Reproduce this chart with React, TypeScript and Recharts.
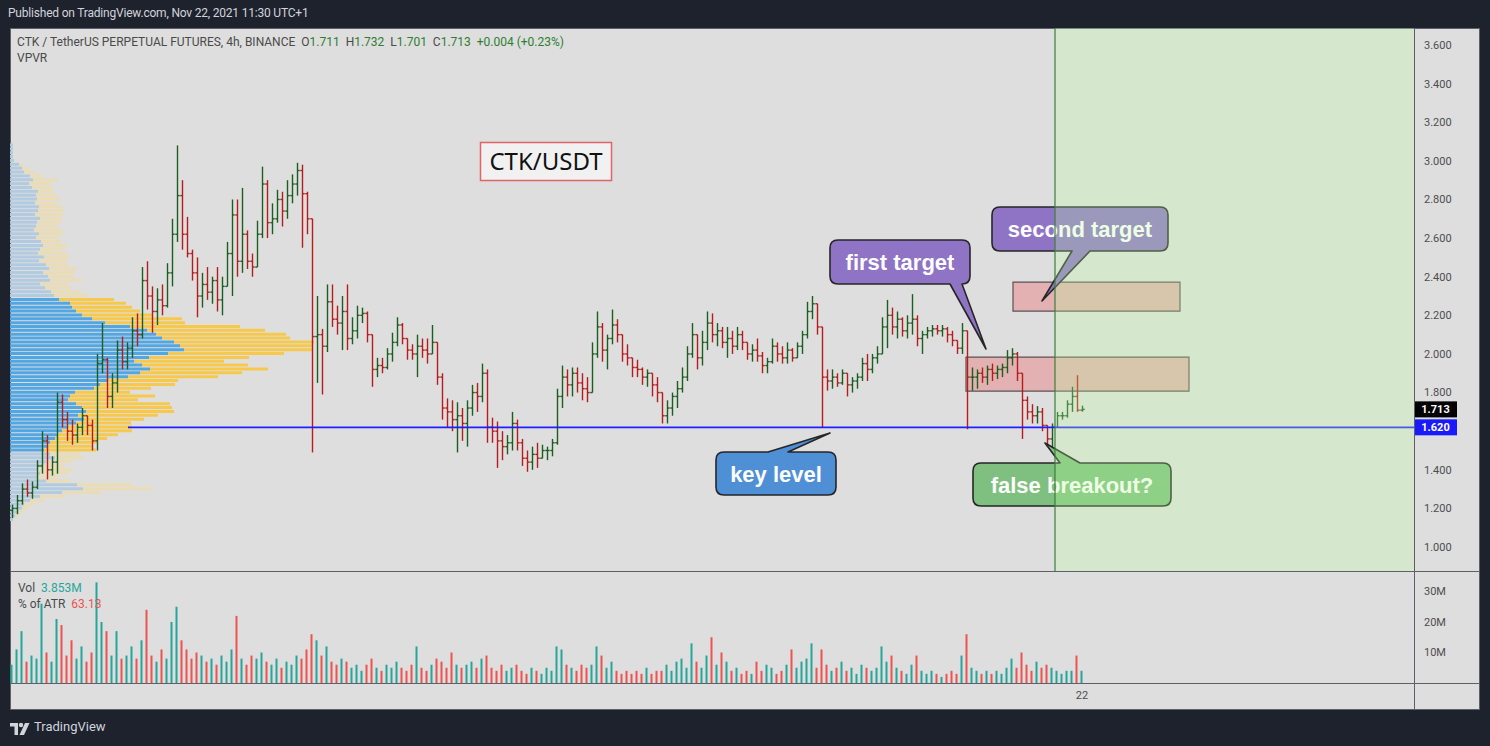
import React from 'react';
import { ComposedChart, Bar, XAxis, YAxis, ReferenceLine, ReferenceArea, Cell } from 'recharts';

// ---------- DATA ----------
const FIRST_OPEN = 1.19;
const HIGHS = [
  1.22, 1.27, 1.33, 1.35, 1.34, 1.45, 1.60, 1.58, 1.47, 1.80,
  1.79, 1.70, 1.66, 1.64, 1.72, 1.68, 1.66, 2.00, 2.16, 1.98,
  1.90, 2.07, 2.09, 2.06, 2.19, 2.21, 2.45, 2.48, 2.35, 2.34,
  2.36, 2.47, 2.70, 3.08, 2.90, 2.71, 2.54, 2.50, 2.42, 2.45,
  2.40, 2.45, 2.40, 2.58, 2.80, 2.80, 2.86, 2.64, 2.52, 2.69,
  2.97, 2.90, 2.78, 2.85, 2.84, 2.90, 2.93, 2.99, 2.98, 2.84,
  2.55, 2.30, 2.13, 2.36, 2.36, 2.25, 2.30, 2.36, 2.19, 2.25,
  2.24, 2.22, 2.04, 1.98, 1.98, 2.03, 2.11, 2.19, 2.16, 2.08,
  2.05, 2.10, 2.08, 2.08, 2.15, 2.06, 1.90, 1.77, 1.76, 1.75,
  1.72, 1.76, 1.84, 1.85, 1.95, 1.92, 1.67, 1.65, 1.60, 1.58,
  1.70, 1.66, 1.56, 1.50, 1.52, 1.54, 1.53, 1.52, 1.56, 1.82,
  1.94, 1.92, 1.93, 1.93, 1.90, 1.88, 2.06, 2.22, 2.16, 2.10,
  2.23, 2.18, 2.10, 2.05, 1.98, 1.97, 1.93, 1.92, 1.90, 1.88,
  1.80, 1.76, 1.80, 1.86, 1.93, 2.04, 2.16, 2.10, 2.12, 2.22,
  2.21, 2.16, 2.14, 2.14, 2.12, 2.14, 2.12, 2.06, 2.05, 2.08,
  2.01, 1.98, 2.08, 2.06, 2.04, 2.06, 2.03, 2.06, 2.12, 2.27,
  2.30, 2.22, 2.14, 1.92, 1.92, 1.90, 1.92, 1.90, 1.88, 1.90,
  1.98, 2.00, 2.00, 2.04, 2.19, 2.28, 2.24, 2.22, 2.19, 2.20,
  2.31, 2.20, 2.12, 2.14, 2.15, 2.15, 2.15, 2.14, 2.12, 2.07,
  2.16, 2.12, 1.93, 1.92, 1.93, 1.94, 1.95, 1.94, 1.95, 2.02,
  2.03, 2.01, 1.90, 1.78, 1.74, 1.73, 1.72, 1.62, 1.64, 1.70,
  1.70, 1.76, 1.83, 1.89, 1.732,
];
const LOWS = [
  1.15, 1.17, 1.22, 1.26, 1.25, 1.30, 1.38, 1.35, 1.37, 1.38,
  1.62, 1.55, 1.53, 1.54, 1.58, 1.58, 1.50, 1.50, 1.90, 1.72,
  1.72, 1.80, 1.92, 1.92, 1.98, 2.04, 2.08, 2.23, 2.11, 2.15,
  2.20, 2.24, 2.35, 2.58, 2.54, 2.50, 2.38, 2.19, 2.24, 2.28,
  2.26, 2.22, 2.20, 2.36, 2.30, 2.40, 2.42, 2.44, 2.40, 2.45,
  2.60, 2.60, 2.62, 2.68, 2.66, 2.70, 2.78, 2.82, 2.55, 2.62,
  1.49, 1.85, 1.79, 2.01, 2.14, 2.10, 2.02, 2.02, 2.05, 2.08,
  2.16, 2.06, 1.83, 1.88, 1.90, 1.92, 1.96, 2.04, 2.05, 1.97,
  1.97, 1.88, 1.98, 1.95, 2.00, 1.84, 1.66, 1.62, 1.60, 1.49,
  1.55, 1.52, 1.68, 1.70, 1.75, 1.54, 1.54, 1.41, 1.45, 1.48,
  1.50, 1.50, 1.42, 1.39, 1.40, 1.41, 1.46, 1.45, 1.47, 1.53,
  1.72, 1.78, 1.78, 1.80, 1.76, 1.75, 1.80, 1.98, 1.96, 1.92,
  2.05, 2.06, 1.96, 1.94, 1.88, 1.88, 1.84, 1.83, 1.78, 1.75,
  1.64, 1.64, 1.68, 1.72, 1.80, 1.86, 1.98, 1.92, 1.94, 2.02,
  2.06, 2.04, 2.03, 1.98, 2.00, 2.02, 2.02, 1.97, 1.96, 1.96,
  1.90, 1.90, 1.95, 1.96, 1.95, 1.95, 1.96, 1.98, 2.00, 2.08,
  2.18, 2.10, 1.62, 1.81, 1.82, 1.83, 1.84, 1.78, 1.80, 1.82,
  1.86, 1.86, 1.90, 1.95, 2.00, 2.03, 2.10, 2.08, 2.09, 2.08,
  2.10, 2.04, 2.00, 2.08, 2.09, 2.10, 2.09, 2.06, 2.04, 2.00,
  2.00, 1.61, 1.81, 1.82, 1.85, 1.84, 1.86, 1.87, 1.88, 1.90,
  1.94, 1.86, 1.56, 1.66, 1.64, 1.64, 1.60, 1.52, 1.50, 1.62,
  1.66, 1.67, 1.70, 1.70, 1.701,
];
const CLOSES = [
  1.20, 1.24, 1.30, 1.28, 1.31, 1.42, 1.55, 1.40, 1.44, 1.75,
  1.66, 1.60, 1.58, 1.62, 1.68, 1.63, 1.55, 1.95, 1.97, 1.78,
  1.85, 2.02, 1.96, 2.03, 2.12, 2.10, 2.38, 2.30, 2.22, 2.28,
  2.25, 2.42, 2.62, 2.82, 2.62, 2.52, 2.42, 2.30, 2.36, 2.32,
  2.38, 2.28, 2.35, 2.52, 2.72, 2.48, 2.62, 2.48, 2.45, 2.62,
  2.88, 2.68, 2.70, 2.80, 2.74, 2.82, 2.88, 2.95, 2.83, 2.70,
  2.09, 2.10, 2.04, 2.27, 2.18, 2.16, 2.22, 2.08, 2.12, 2.20,
  2.21, 2.10, 1.92, 1.94, 1.93, 2.00, 2.06, 2.15, 2.08, 2.02,
  2.00, 2.04, 2.02, 2.00, 2.06, 1.88, 1.72, 1.70, 1.66, 1.68,
  1.64, 1.72, 1.80, 1.78, 1.90, 1.62, 1.60, 1.55, 1.52, 1.54,
  1.64, 1.54, 1.46, 1.44, 1.48, 1.46, 1.50, 1.50, 1.54, 1.78,
  1.88, 1.84, 1.90, 1.85, 1.82, 1.80, 2.00, 2.14, 2.02, 2.08,
  2.15, 2.10, 2.00, 1.98, 1.93, 1.92, 1.88, 1.90, 1.84, 1.80,
  1.68, 1.72, 1.78, 1.82, 1.88, 2.00, 2.10, 1.98, 2.06, 2.16,
  2.10, 2.12, 2.06, 2.08, 2.04, 2.10, 2.06, 2.00, 2.02, 1.99,
  1.94, 1.96, 2.04, 2.00, 1.98, 2.02, 1.98, 2.04, 2.10, 2.22,
  2.26, 2.14, 1.88, 1.86, 1.88, 1.85, 1.90, 1.84, 1.86, 1.88,
  1.95, 1.92, 1.98, 2.00, 2.14, 2.20, 2.14, 2.18, 2.12, 2.16,
  2.18, 2.08, 2.10, 2.12, 2.13, 2.12, 2.13, 2.10, 2.07, 2.03,
  2.12, 1.88, 1.88, 1.90, 1.88, 1.92, 1.90, 1.92, 1.93, 1.98,
  2.00, 1.90, 1.76, 1.70, 1.68, 1.70, 1.63, 1.56, 1.62, 1.68,
  1.68, 1.74, 1.78, 1.709, 1.713,
];
const VOLUMES = [
  6, 11, 17, 7, 9, 8, 26, 10, 7, 21,
  19, 9, 14, 8, 12, 7, 10, 33, 20, 17,
  9, 17, 8, 9, 12, 8, 14, 24, 9, 7,
  11, 8, 20, 25, 14, 11, 8, 10, 9, 7,
  8, 6, 9, 7, 11, 22, 8, 6, 9, 8,
  10, 7, 6, 8, 5, 7, 6, 9, 8, 11,
  16, 14, 9, 12, 7, 6, 8, 7, 5, 6,
  4, 6, 8, 5, 4, 6, 5, 7, 5, 4,
  6, 12, 5, 4, 6, 8, 7, 5, 10, 6,
  5, 6, 7, 5, 8, 9, 5, 4, 6, 4,
  5, 6, 4, 3, 5, 4, 3, 5, 4, 12,
  11, 6, 5, 4, 6, 5, 6, 12, 9, 5,
  7, 4, 3, 4, 3, 4, 3, 5, 3, 4,
  4, 6, 4, 7, 8, 5, 13, 7, 5, 9,
  15, 6, 10, 7, 4, 5, 3, 4, 3, 7,
  4, 6, 5, 3, 4, 6, 11, 5, 7, 8,
  13, 5, 11, 6, 4, 5, 7, 4, 5, 3,
  6, 5, 4, 5, 12, 7, 9, 5, 4, 3,
  6, 9, 4, 3, 4, 3, 2, 3, 4, 3,
  9, 16, 5, 4, 3, 4, 3, 4, 3, 5,
  8, 5, 10, 6, 4, 7, 5, 6, 5, 4,
  3, 4, 4, 9, 4,
];

// 1.600 is hidden on the scale behind the 1.620 / 1.713 price tags
const PRICE_TICKS = [1.0, 1.2, 1.4, 1.8, 2.0, 2.2, 2.4, 2.6, 2.8, 3.0, 3.2, 3.4, 3.6];
const VOLUME_TICKS = [10, 20, 30];
const DATE_TICKS = [214];
const DATE_LABELS = ['22'];

// Volume profile (VPVR), rows of 0.02 from the top row downwards
const PROFILE_TOP = 3.08;
const PROFILE_STEP = 0.02;
const PROFILE_UP = [
  3, 3, 3, 3, 4, 9, 12, 14, 20, 23,
  19, 22, 28, 26, 27, 25, 29, 28, 25, 30,
  27, 26, 24, 29, 26, 31, 33, 30, 28, 34,
  29, 36, 39, 33, 38, 40, 30, 35, 41, 44,
  49, 60, 62, 66, 72, 82, 95, 120, 137, 146,
  152, 164, 170, 174, 158, 139, 124, 132, 140, 130,
  118, 98, 90, 84, 65, 60, 58, 66, 72, 76,
  68, 74, 66, 58, 52, 48, 45, 40, 38, 34,
  40, 45, 36, 32, 28, 30, 27, 36, 67, 73,
  52, 30, 20, 14, 12, 8, 5, 3,
];
const PROFILE_DOWN = [
  0, 0, 0, 0, 1, 3, 6, 10, 12, 25,
  22, 20, 15, 20, 23, 20, 23, 26, 28, 22,
  24, 21, 27, 25, 23, 20, 24, 22, 30, 25,
  28, 22, 28, 31, 25, 32, 28, 26, 30, 35,
  55, 56, 60, 64, 70, 90, 80, 110, 118, 130,
  128, 140, 133, 128, 116, 100, 90, 106, 118, 102,
  90, 70, 75, 57, 55, 85, 70, 94, 90, 88,
  80, 60, 55, 64, 70, 60, 52, 48, 45, 52,
  30, 28, 25, 22, 35, 28, 20, 25, 55, 70,
  40, 25, 14, 10, 6, 5, 3, 1,
];
const VALUE_AREA = [1.49, 2.29];

const KEY_LEVEL = 1.62;
const KEY_LEVEL_START = 23.2;
const LAST_PRICE = 1.713;
const GREEN_ZONE_START = 208.6;
const TARGET_ZONES = [
  { x1: 200.2, x2: 233.6, y1: 2.222, y2: 2.372 },
  { x1: 190.8, x2: 235.4, y1: 1.808, y2: 1.984 },
];

// ---------- LAYOUT / STYLE ----------
const PANE_W = 1404;
const AXIS_W = 66;
const PRICE_H = 543;
const X_DOMAIN: [number, number] = [-0.4, 280.4];
const PRICE_DOMAIN: [number, number] = [0.876, 3.688];
const VOL_DOMAIN: [number, number] = [0, 36.72];
const UP = '#1b5e20';
const DOWN = '#b71c1c';
const VOL_UP = '#26a69a';
const VOL_DOWN = '#ef5350';
const FONT = 'Roboto, "Noto Sans", sans-serif';

const bars = CLOSES.map((c, i) => {
  const open = i === 0 ? FIRST_OPEN : CLOSES[i - 1];
  const high = Math.max(HIGHS[i], open, c);
  const low = Math.min(LOWS[i], open, c);
  return { i, open, high, low, close: c, range: [low, high], vol: VOLUMES[i] };
});

const profile = PROFILE_UP.map((u, k) => ({
  p: +(PROFILE_TOP - k * PROFILE_STEP).toFixed(2),
  up: u,
  down: PROFILE_DOWN[k],
}));

const OhlcShape = (props: any) => {
  const { x, y, width, height, payload } = props;
  if (x == null || y == null) return null;
  const top = Math.min(y, y + height);
  const h = Math.abs(height);
  const cx = Math.round(x + width / 2) + 0.5;
  const span = payload.high - payload.low || 1;
  const yo = top + ((payload.high - payload.open) / span) * h;
  const yc = top + ((payload.high - payload.close) / span) * h;
  const color = payload.close >= payload.open ? UP : DOWN;
  return (
    <g>
      <line x1={cx} x2={cx} y1={top} y2={top + Math.max(h, 1)} stroke={color} strokeWidth={1.4} />
      <line x1={cx - 2.2} x2={cx} y1={yo} y2={yo} stroke={color} strokeWidth={1.4} />
      <line x1={cx} x2={cx + 2.2} y1={yc} y2={yc} stroke={color} strokeWidth={1.4} />
    </g>
  );
};

const PriceTag = (fill: string, text: string) => (props: any) => {
  const vb = props.viewBox || {};
  const x = (vb.x || 0) + (vb.width || 0);
  const y = vb.y || 0;
  return (
    <g>
      <rect x={x} y={y - 8} width={43} height={16} fill={fill} />
      <text x={x + 21.5} y={y + 4} textAnchor="middle" fontSize={11} fontWeight="bold" fill="#fff" fontFamily={FONT}>
        {text}
      </text>
    </g>
  );
};

function calloutPath(x: number, y: number, w: number, h: number, r: number, edge: 'top' | 'bottom', b1: number, b2: number, tx: number, ty: number) {
  const R = x + w;
  const B = y + h;
  if (edge === 'bottom') {
    return `M${x + r},${y} H${R - r} Q${R},${y} ${R},${y + r} V${B - r} Q${R},${B} ${R - r},${B} H${b2} L${tx},${ty} L${b1},${B} H${x + r} Q${x},${B} ${x},${B - r} V${y + r} Q${x},${y} ${x + r},${y} Z`;
  }
  return `M${x + r},${y} H${b1} L${tx},${ty} L${b2},${y} H${R - r} Q${R},${y} ${R},${y + r} V${B - r} Q${R},${B} ${R - r},${B} H${x + r} Q${x},${B} ${x},${B - r} V${y + r} Q${x},${y} ${x + r},${y} Z`;
}

const CALLOUTS = [
  { text: 'first target', x: 830, y: 240, w: 140, h: 44, edge: 'bottom' as const, b1: 950, b2: 962, tx: 986, ty: 349, fill: '#8f74c6' },
  { text: 'second target', x: 992, y: 207, w: 176, h: 44, edge: 'bottom' as const, b1: 1072, b2: 1090, tx: 1042, ty: 301, fill: '#8f74c6' },
  { text: 'key level', x: 716, y: 452, w: 120, h: 43, edge: 'top' as const, b1: 768, b2: 788, tx: 830, ty: 433, fill: '#4f8fd6' },
  { text: 'false breakout?', x: 973, y: 463, w: 198, h: 43, edge: 'top' as const, b1: 1060, b2: 1080, tx: 1045, ty: 443, fill: '#7fbf7f' },
];

const TvLogo = () => (
  <svg width={22} height={14} viewBox="0 0 22 14" style={{ position: 'absolute', left: 10, top: 722 }}>
    <path d="M0 1 H8 V13 H4.5 V4.5 H0 Z" fill="#d1d4dc" />
    <circle cx={11} cy={3} r={2.2} fill="#d1d4dc" />
    <path d="M15 1 H19.5 L14 13 H9.5 Z" fill="#d1d4dc" />
  </svg>
);

export default function App() {
  return (
    <div style={{ position: 'absolute', left: 0, top: 0, width: 1490, height: 746, background: '#1e222d', fontFamily: FONT, overflow: 'hidden' }}>
      <div style={{ position: 'absolute', left: 8, top: 6, fontSize: 12, color: '#d1d4dc', letterSpacing: -0.2 }}>
        Published on TradingView.com, Nov 22, 2021 11:30 UTC+1
      </div>
      {/* chart frame */}
      <div style={{ position: 'absolute', left: 10, top: 28, width: 1470, height: 682, background: '#dedede', boxShadow: 'inset 0 0 0 1px #5d606b' }} />

      {/* volume profile */}
      <div style={{ position: 'absolute', left: 10, top: 28 }}>
        <ComposedChart width={PANE_W} height={PRICE_H} data={profile} layout="vertical" margin={{ top: 0, right: 0, bottom: 0, left: 0 }}>
          <XAxis type="number" domain={[0, PANE_W]} hide allowDataOverflow />
          <YAxis type="number" dataKey="p" domain={PRICE_DOMAIN} hide allowDataOverflow reversed />
          <Bar dataKey="up" stackId="v" barSize={3} isAnimationActive={false}>
            {profile.map((r, k) => (
              <Cell key={k} fill={r.p >= VALUE_AREA[0] && r.p <= VALUE_AREA[1] ? '#52a6e1' : '#b2cbe0'} />
            ))}
          </Bar>
          <Bar dataKey="down" stackId="v" barSize={3} isAnimationActive={false}>
            {profile.map((r, k) => (
              <Cell key={k} fill={r.p >= VALUE_AREA[0] && r.p <= VALUE_AREA[1] ? '#f6c94e' : '#eadcb4'} />
            ))}
          </Bar>
        </ComposedChart>
      </div>

      {/* price pane */}
      <div style={{ position: 'absolute', left: 10, top: 28 }}>
        <ComposedChart width={PANE_W + AXIS_W} height={PRICE_H} data={bars} margin={{ top: 0, right: 0, bottom: 0, left: 0 }}>
          <XAxis type="number" dataKey="i" domain={X_DOMAIN} hide allowDataOverflow />
          <YAxis
            orientation="right"
            type="number"
            domain={PRICE_DOMAIN}
            ticks={PRICE_TICKS}
            allowDataOverflow
            width={AXIS_W}
            axisLine={false}
            tickLine={false}
            tickMargin={4}
            tick={{ fill: '#4d4d4d', fontSize: 11, fontFamily: FONT }}
            tickFormatter={(v: number) => v.toFixed(3)}
          />
          {TARGET_ZONES.map((z, k) => (
            <ReferenceArea key={k} x1={z.x1} x2={z.x2} y1={z.y1} y2={z.y2} fill="rgb(244,20,20)" fillOpacity={0.22} stroke="#5b5151" strokeWidth={1.2} ifOverflow="extendDomain" />
          ))}
          <ReferenceLine segment={[{ x: KEY_LEVEL_START, y: KEY_LEVEL }, { x: X_DOMAIN[1], y: KEY_LEVEL }]} stroke="#1f1fff" strokeWidth={1.6} />
          <Bar dataKey="range" barSize={4} shape={OhlcShape} isAnimationActive={false} />
          <ReferenceLine y={LAST_PRICE} stroke="none" label={PriceTag('#000', LAST_PRICE.toFixed(3))} />
          <ReferenceLine y={KEY_LEVEL} stroke="none" label={PriceTag('#1a1aff', KEY_LEVEL.toFixed(3))} />
        </ComposedChart>
      </div>

      {/* annotations */}
      <svg width={1490} height={746} style={{ position: 'absolute', left: 0, top: 0 }}>
        <rect x={480.5} y={142.5} width={131} height={38} fill="#f1f1f1" stroke="#e06666" strokeWidth={1.5} />
        <text x={546} y={170} textAnchor="middle" fontSize={24} fill="#111" fontFamily='"Noto Sans", sans-serif'>CTK/USDT</text>
        {CALLOUTS.map((c, k) => (
          <g key={k}>
            <path d={calloutPath(c.x, c.y, c.w, c.h, 8, c.edge, c.b1, c.b2, c.tx, c.ty)} fill={c.fill} stroke="#262626" strokeWidth={1.6} strokeLinejoin="round" />
            <text x={c.x + c.w / 2} y={c.y + c.h / 2 + 8} textAnchor="middle" fontSize={22} fontWeight="bold" fill="#fff" fontFamily='"Liberation Sans", Arial, sans-serif'>
              {c.text}
            </text>
          </g>
        ))}
      </svg>

      {/* forecast zone overlay */}
      <div style={{ position: 'absolute', left: 10, top: 28 }}>
        <ComposedChart width={PANE_W} height={PRICE_H} data={bars} margin={{ top: 0, right: 0, bottom: 0, left: 0 }}>
          <XAxis type="number" dataKey="i" domain={X_DOMAIN} hide allowDataOverflow />
          <YAxis type="number" domain={PRICE_DOMAIN} hide allowDataOverflow />
          <ReferenceArea x1={GREEN_ZONE_START} x2={X_DOMAIN[1]} y1={PRICE_DOMAIN[0]} y2={PRICE_DOMAIN[1]} fill="rgb(190,255,160)" fillOpacity={0.27} stroke="none" />
          <ReferenceLine x={GREEN_ZONE_START} stroke="#3b7d3b" strokeWidth={1.2} />
        </ComposedChart>
      </div>

      {/* volume pane */}
      <div style={{ position: 'absolute', left: 10, top: 571 }}>
        <ComposedChart width={PANE_W + AXIS_W} height={139} data={bars} margin={{ top: 0, right: 0, bottom: 0, left: 0 }}>
          <XAxis
            type="number"
            dataKey="i"
            domain={X_DOMAIN}
            allowDataOverflow
            height={27}
            ticks={DATE_TICKS}
            tickFormatter={(v: number) => DATE_LABELS[DATE_TICKS.indexOf(v)] ?? ''}
            axisLine={false}
            tickLine={false}
            tick={{ fill: '#4d4d4d', fontSize: 11, fontFamily: FONT }}
          />
          <YAxis
            orientation="right"
            type="number"
            domain={VOL_DOMAIN}
            ticks={VOLUME_TICKS}
            allowDataOverflow
            width={AXIS_W}
            axisLine={false}
            tickLine={false}
            tickMargin={4}
            tick={{ fill: '#4d4d4d', fontSize: 11, fontFamily: FONT }}
            tickFormatter={(v: number) => `${v}M`}
          />
          <Bar dataKey="vol" barSize={2} isAnimationActive={false}>
            {bars.map((b, k) => (
              <Cell key={k} fill={b.close >= b.open ? VOL_UP : VOL_DOWN} />
            ))}
          </Bar>
        </ComposedChart>
      </div>

      {/* pane separators */}
      <div style={{ position: 'absolute', left: 10, top: 571, width: 1470, height: 1, background: '#5d606b' }} />
      <div style={{ position: 'absolute', left: 10, top: 683, width: 1470, height: 1, background: '#5d606b' }} />
      <div style={{ position: 'absolute', left: 1414, top: 28, width: 1, height: 682, background: '#5d606b' }} />

      {/* legends */}
      <div style={{ position: 'absolute', left: 17, top: 35, fontSize: 12, color: '#4a4a4a', whiteSpace: 'pre' }}>
        {'CTK / TetherUS PERPETUAL FUTURES, 4h, BINANCE  O'}
        <span style={{ color: '#2e7d32' }}>1.711</span>
        {'  H'}
        <span style={{ color: '#2e7d32' }}>1.732</span>
        {'  L'}
        <span style={{ color: '#2e7d32' }}>1.701</span>
        {'  C'}
        <span style={{ color: '#2e7d32' }}>1.713</span>
        <span style={{ color: '#2e7d32' }}>{'  +0.004 (+0.23%)'}</span>
      </div>
      <div style={{ position: 'absolute', left: 17, top: 51, fontSize: 12, color: '#4a4a4a' }}>VPVR</div>
      <div style={{ position: 'absolute', left: 18, top: 581, fontSize: 12, color: '#4a4a4a', whiteSpace: 'pre' }}>
        {'Vol  '}<span style={{ color: '#26a69a' }}>3.853M</span>
      </div>
      <div style={{ position: 'absolute', left: 18, top: 597, fontSize: 12, color: '#4a4a4a', whiteSpace: 'pre' }}>
        {'% of ATR  '}<span style={{ color: '#ef5350' }}>63.13</span>
      </div>

      <TvLogo />
      <div style={{ position: 'absolute', left: 34, top: 719, fontSize: 13, color: '#d1d4dc' }}>TradingView</div>
    </div>
  );
}
